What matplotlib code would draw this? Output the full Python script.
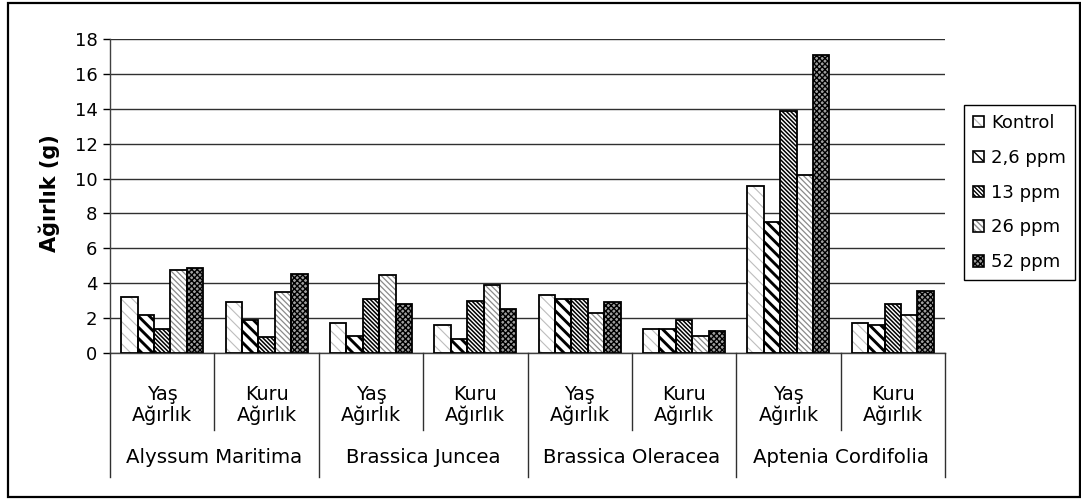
import matplotlib
matplotlib.use("Agg")
import matplotlib.pyplot as plt
import numpy as np
from matplotlib.patches import Rectangle, Patch
from matplotlib.legend_handler import HandlerTuple

# --- data -------------------------------------------------------------
species = ["Alyssum Maritima", "Brassica Juncea", "Brassica Oleracea", "Aptenia Cordifolia"]
measures = ["Yaş\nAğırlık", "Kuru\nAğırlık"]
series_names = ["Kontrol", "2,6 ppm", "13 ppm", "26 ppm", "52 ppm"]

# values per series, ordered: species x (Yaş, Kuru)
kontrol = [3.2, 2.9, 1.7, 1.6, 3.3, 1.4, 9.6, 1.7]
ppm_2_6 = [2.2, 1.9, 1.0, 0.8, 3.1, 1.4, 7.5, 1.6]
ppm_13 = [1.4, 0.9, 3.1, 3.0, 3.1, 1.9, 13.9, 2.8]
ppm_26 = [4.75, 3.5, 4.45, 3.9, 2.3, 1.0, 10.2, 2.2]
ppm_52 = [4.85, 4.55, 2.8, 2.5, 2.9, 1.25, 17.1, 3.55]
series_values = [kontrol, ppm_2_6, ppm_13, ppm_26, ppm_52]

y_ticks = [0, 2, 4, 6, 8, 10, 12, 14, 16, 18]

# fill styles for each series: (face, hatch, hatch colour, hatch linewidth)
styles = [
    ("white", "\\" * 3, "#bdbdbd", 0.8),
    ("white", "\\" * 3, "black", 2.1),
    ("white", "\\" * 8, "black", 1.1),
    ("white", "\\" * 6, "#8a8a8a", 0.9),
    ("#a0a0a0", "x" * 6, "black", 1.0),
]

plt.rcParams["font.family"] = ["DejaVu Sans"]

W, H = 1081, 499
fig = plt.figure(figsize=(W / 100, H / 100), dpi=100)
fig.patch.set_facecolor("white")

# outer frame of the chart
fig.patches.append(Rectangle((8 / W, 2 / H), (1080 - 8) / W, (496 - 2) / H,
                             transform=fig.transFigure, fill=False,
                             edgecolor="black", linewidth=1.6, zorder=10,
                             clip_on=False))

ax = fig.add_axes([110 / W, (H - 353) / H, (945 - 110) / W, 314 / H])

n_groups = len(kontrol)
x = np.arange(n_groups)
bw = 0.157
edge_lw = 1.3

legend_handles = []
for i, (vals, (face, hatch, hcol, hlw)) in enumerate(zip(series_values, styles)):
    pos = x + (i - 2) * bw
    with plt.rc_context({"hatch.linewidth": hlw}):
        hb = ax.bar(pos, vals, width=bw, facecolor=face, edgecolor=hcol,
                    hatch=hatch, linewidth=0, zorder=3)
        hp = Patch(facecolor=face, edgecolor=hcol, hatch=hatch, linewidth=0)
    for p in list(hb) + [hp]:
        if hasattr(p, "set_hatch_linewidth"):
            p.set_hatch_linewidth(hlw)
    ax.bar(pos, vals, width=bw, facecolor="none", edgecolor="black",
           linewidth=edge_lw, zorder=4)
    bp = Patch(facecolor="none", edgecolor="black", linewidth=1.2)
    legend_handles.append((hp, bp))

ax.set_xlim(-0.5, n_groups - 0.5)
ax.set_ylim(0, 18)
ax.set_yticks(y_ticks)
ax.tick_params(axis="y", direction="out", length=5, width=1, labelsize=13, pad=4)
ax.set_xticks([])
ax.grid(axis="y", color="#303030", linewidth=1.0, zorder=0)
ax.set_axisbelow(True)
for s in ["top", "right"]:
    ax.spines[s].set_visible(False)
ax.spines["left"].set_color("#404040")
ax.spines["bottom"].set_color("#404040")
ax.spines["left"].set_linewidth(1.0)
ax.spines["bottom"].set_linewidth(1.0)

ax.set_ylabel("Ağırlık (g)", fontsize=15, fontweight="bold")
ax.yaxis.set_label_coords(-0.06, 0.51)

# category labels under the axis
tr = ax.get_xaxis_transform()
for g in range(n_groups):
    ax.text(x[g], -0.166, measures[g % 2], transform=tr, ha="center", va="center",
            fontsize=13.8, linespacing=1.1, clip_on=False)
for k, name in enumerate(species):
    ax.text(2 * k + 0.5, -0.334, name, transform=tr, ha="center", va="center",
            fontsize=14.2, clip_on=False)

# separators between categories
for b in range(n_groups + 1):
    xb = b - 0.5
    low = -0.395 if b % 2 == 0 else -0.245
    ax.plot([xb, xb], [0, low], transform=tr, color="#303030", linewidth=1.0,
            clip_on=False, zorder=5)

leg = fig.legend(legend_handles, series_names,
                 handler_map={tuple: HandlerTuple(ndivide=1, pad=0)},
                 loc="upper left", bbox_to_anchor=(964 / W, 1 - 105 / H),
                 bbox_transform=fig.transFigure, fontsize=13, frameon=True,
                 fancybox=False, edgecolor="black", framealpha=1,
                 handlelength=0.6, handleheight=0.6, handletextpad=0.4,
                 labelspacing=0.93, borderpad=0.5, borderaxespad=0)
leg.get_frame().set_linewidth(1.0)

fig.savefig("out.png", dpi=100, facecolor="white")
